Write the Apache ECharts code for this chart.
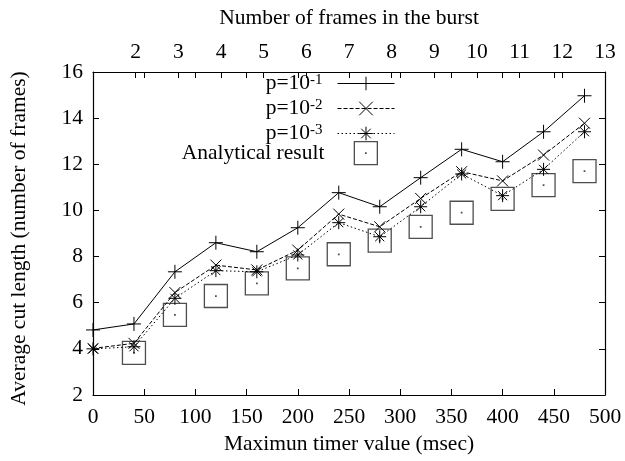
<!DOCTYPE html>
<html>
<head>
<meta charset="utf-8">
<script src="https://cdn.jsdelivr.net/npm/echarts@6/dist/echarts.min.js"></script>
<style>
  html, body { margin: 0; padding: 0; background: #fff; }
  #chart { width: 625px; height: 461px; }
</style>
</head>
<body>
<div id="chart"></div>
<script>
// Maximum timer value (msec) for each measurement
const timerValues = [0, 40, 80, 120, 160, 200, 240, 280, 320, 360, 400, 440, 480];

// Average cut length (number of frames) per loss probability
const cutP1 = [4.82, 5.08, 7.34, 8.60, 8.21, 9.25, 10.77, 10.16, 11.42, 12.65, 12.11, 13.41, 14.97];
const cutP2 = [4.02, 4.24, 6.44, 7.63, 7.42, 8.28, 9.84, 9.29, 10.52, 11.68, 11.28, 12.40, 13.78];
const cutP3 = [4.00, 4.09, 6.19, 7.39, 7.34, 8.07, 9.47, 8.86, 10.16, 11.58, 10.64, 11.78, 13.41];
const analytical = [null, 3.83, 5.47, 6.29, 6.84, 7.49, 8.10, 8.69, 9.29, 9.90, 10.50, 11.10, 11.70];

// Axis ranges and ticks
const yTicks = { min: 2, max: 16, step: 2 };
const xTicks = { min: 0, max: 500, step: 50 };
const burstTicks = { min: 1, max: 13, step: 1 };

const seriesNames = ['p1', 'p2', 'p3', 'analytic'];
const legendLabels = {
  p1: '{t|p=10}{s|-1}',
  p2: '{t|p=10}{s|-2}',
  p3: '{t|p=10}{s|-3}',
  analytic: '{t|Analytical result}{g|}'
};

const pairs = (ys) => timerValues.map((x, i) => [x, ys[i]]).filter(p => p[1] != null);

const FONT = 'Liberation Serif';
const FS = 21.5;

const SYM_PLUS = 'path://M0,5L10,5M5,0L5,10';
const SYM_CROSS = 'path://M0,0L10,10M10,0L0,10';
const SYM_STAR = 'path://M0,5L10,5M5,0L5,10M1.5,1.5L8.5,8.5M8.5,1.5L1.5,8.5';
const SYM_BOX = 'path://M0,0L10,0L10,10L0,10ZM4.9,4.9L5.1,4.9L5.1,5.1L4.9,5.1Z';

const hollow = { color: 'rgba(0,0,0,0)', borderColor: '#000', borderWidth: 1 };
const boxStyle = { color: 'rgba(0,0,0,0)', borderColor: '#222', borderWidth: 1.3 };

const richText = {
  t: { fontFamily: FONT, fontSize: FS, color: '#000', lineHeight: 22 },
  s: { fontFamily: FONT, fontSize: 15, color: '#000', verticalAlign: 'top', lineHeight: 9, padding: [0, 10, 0, 0] },
  g: { width: 25 }
};

const labelStyle = { fontFamily: FONT, fontSize: FS, color: '#000' };
const nameStyle = { fontFamily: FONT, fontSize: FS, color: '#000' };
const frameLine = { show: true, onZero: false, lineStyle: { color: '#000', width: 1.2 } };
const tickIn = { show: true, inside: true, length: 6, lineStyle: { color: '#000', width: 1 } };

const chart = echarts.init(document.getElementById('chart'), null, { renderer: 'canvas' });

chart.setOption({
  animation: false,
  backgroundColor: '#fff',
  grid: { left: 92, right: 20, top: 72, bottom: 66 },
  xAxis: [
    {
      type: 'value', position: 'bottom',
      min: xTicks.min, max: xTicks.max, interval: xTicks.step,
      axisLine: frameLine, axisTick: tickIn, splitLine: { show: false },
      axisLabel: Object.assign({ margin: 11 }, labelStyle),
      name: 'Maximun timer value (msec)', nameLocation: 'middle', nameGap: 32,
      nameTextStyle: nameStyle
    },
    {
      // mirrored timer ticks along the top edge
      type: 'value', position: 'top',
      min: xTicks.min, max: xTicks.max, interval: xTicks.step,
      axisLine: frameLine, axisTick: tickIn, splitLine: { show: false },
      axisLabel: { show: false }
    },
    {
      type: 'value', position: 'top',
      min: burstTicks.min, max: burstTicks.max, interval: burstTicks.step,
      axisLine: { show: false }, axisTick: tickIn, splitLine: { show: false },
      axisLabel: Object.assign({ margin: 9, showMinLabel: false }, labelStyle),
      name: 'Number of frames in the burst', nameLocation: 'middle', nameGap: 43,
      nameTextStyle: nameStyle
    }
  ],
  yAxis: [
    {
      type: 'value', position: 'left',
      min: yTicks.min, max: yTicks.max, interval: yTicks.step,
      axisLine: frameLine, axisTick: tickIn, splitLine: { show: false },
      axisLabel: Object.assign({ margin: 10 }, labelStyle),
      name: 'Average cut length (number of frames)', nameLocation: 'middle', nameGap: 63,
      nameTextStyle: Object.assign({ padding: [0, 10, 0, 0] }, nameStyle)
    },
    {
      type: 'value', position: 'right',
      min: yTicks.min, max: yTicks.max, interval: yTicks.step,
      axisLine: frameLine, axisTick: tickIn, splitLine: { show: false },
      axisLabel: { show: false }
    }
  ],
  legend: [
    {
      orient: 'vertical', align: 'right', right: 230, top: 72.5, padding: 0,
      itemWidth: 57, itemHeight: 17, itemGap: 3,
      data: seriesNames.slice(0, 3),
      formatter: (n) => legendLabels[n],
      textStyle: { rich: richText },
      itemStyle: hollow,
      lineStyle: { width: 1 },
      selectedMode: false
    },
    {
      orient: 'vertical', align: 'right', right: 247, top: 141, padding: 0,
      itemWidth: 23, itemHeight: 23,
      data: seriesNames.slice(3),
      formatter: (n) => legendLabels[n],
      textStyle: { rich: richText },
      itemStyle: boxStyle,
      selectedMode: false
    }
  ],
  series: [
    {
      name: seriesNames[0], type: 'line', data: pairs(cutP1),
      symbol: SYM_PLUS, symbolSize: 14, showAllSymbol: true,
      lineStyle: { color: '#000', width: 1, type: 'solid' },
      itemStyle: hollow
    },
    {
      name: seriesNames[1], type: 'line', data: pairs(cutP2),
      symbol: SYM_CROSS, symbolSize: 11,
      lineStyle: { color: '#000', width: 1, type: [4, 2] },
      itemStyle: hollow
    },
    {
      name: seriesNames[2], type: 'line', data: pairs(cutP3),
      symbol: SYM_STAR, symbolSize: 13,
      lineStyle: { color: '#000', width: 1, type: [1.5, 2.5] },
      itemStyle: hollow
    },
    {
      name: seriesNames[3], type: 'scatter', data: pairs(analytical),
      symbol: SYM_BOX, symbolSize: 23,
      itemStyle: boxStyle
    }
  ]
});
</script>
</body>
</html>
